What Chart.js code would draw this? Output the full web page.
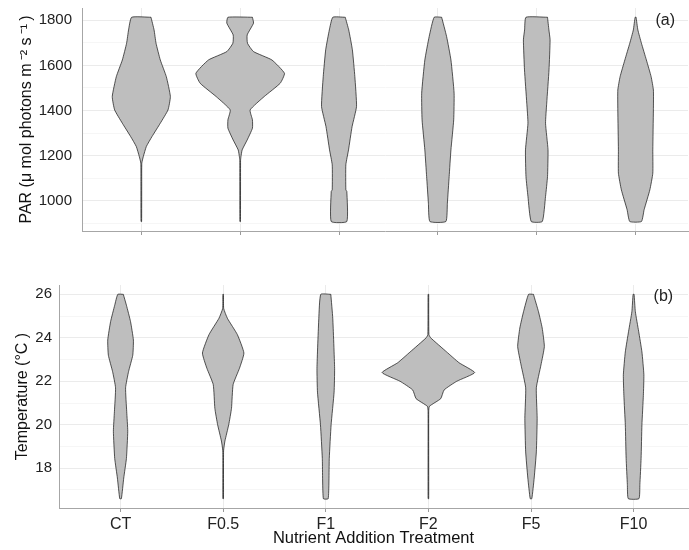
<!DOCTYPE html>
<html>
<head>
<meta charset="utf-8">
<title>PAR and temperature by nutrient treatment</title>
<script src="https://cdn.jsdelivr.net/npm/chart.js@4.4.1/dist/chart.umd.min.js"></script>
<style>
  html, body { margin: 0; padding: 0; background: #fff; }
  #wrap { position: relative; width: 689px; height: 550px; }
  canvas { position: absolute; left: 0; }
  #parChart { top: 0; }
  #tempChart { top: 240px; }
</style>
</head>
<body>
<div id="wrap">
  <canvas id="parChart" width="689" height="240"></canvas>
  <canvas id="tempChart" width="689" height="310"></canvas>
</div>
<script>
// Categories
const treatments = ['CT', 'F0.5', 'F1', 'F2', 'F5', 'F10'];

// Violin profiles: [value, half width in category units]
// (a) PAR, µmol photons m-2 s-1
const parCT  = [[1813,0.098],[1757,0.129],[1698,0.149],[1624,0.192],[1550,0.253],[1462,0.294],[1403,0.270],[1344,0.192],[1285,0.108],[1241,0.051],[1196,0.020],[1167,0.005],[1079,0.004],[909,0.003]];
const parF05 = [[1813,0.124],[1787,0.135],[1735,0.071],[1698,0.074],[1661,0.135],[1624,0.321],[1565,0.448],[1521,0.405],[1462,0.243],[1403,0.101],[1359,0.124],[1322,0.124],[1270,0.071],[1226,0.020],[1196,0.008],[1180,0.004],[909,0.003]];
const parF1  = [[1813,0.063],[1757,0.098],[1669,0.135],[1550,0.160],[1418,0.177],[1329,0.132],[1226,0.096],[1160,0.069],[1049,0.069],[1042,0.079],[909,0.079]];
const parF2  = [[1813,0.038],[1728,0.088],[1624,0.132],[1477,0.164],[1359,0.160],[1226,0.132],[1108,0.114],[990,0.096],[909,0.081]];
const parF5  = [[1813,0.109],[1757,0.123],[1713,0.135],[1580,0.124],[1433,0.101],[1344,0.089],[1226,0.114],[1108,0.109],[1020,0.089],[909,0.056]];
const parF10 = [[1813,0.005],[1757,0.023],[1698,0.059],[1624,0.109],[1550,0.157],[1491,0.180],[1403,0.180],[1226,0.174],[1123,0.174],[1049,0.144],[961,0.086],[909,0.059]];

// (b) Temperature, °C
const tempCT  = [[26.0,0.027],[25.5,0.057],[24.75,0.097],[23.9,0.125],[23.2,0.119],[22.45,0.078],[21.7,0.049],[20.6,0.060],[19.7,0.070],[18.45,0.057],[17.55,0.031],[16.6,0.008]];
const tempF05 = [[26.0,0.003],[25.35,0.005],[24.9,0.041],[24.15,0.138],[23.3,0.202],[22.6,0.159],[21.85,0.097],[20.75,0.081],[20.0,0.054],[19.25,0.017],[18.8,0.004],[16.6,0.003]];
const tempF1  = [[26.0,0.049],[24.9,0.068],[22.6,0.086],[21.5,0.081],[20.0,0.052],[18.45,0.034],[16.6,0.024]];
const tempF2  = [[26.0,0.003],[24.15,0.005],[24.0,0.022],[23.35,0.178],[22.85,0.300],[22.4,0.451],[22.0,0.276],[21.6,0.153],[21.2,0.120],[20.85,0.010],[20.6,0.003],[16.6,0.003]];
const tempF5  = [[26.0,0.024],[25.2,0.073],[24.45,0.109],[23.6,0.130],[22.75,0.097],[21.7,0.052],[20.3,0.060],[18.75,0.052],[17.55,0.031],[16.6,0.008]];
const tempF10 = [[26.0,0.005],[25.2,0.017],[24.3,0.049],[23.35,0.081],[22.3,0.100],[21.35,0.095],[20.0,0.081],[18.45,0.073],[17.25,0.061],[16.6,0.052]];

// Axis ticks (grid every step, labels on majors)
const parTicks  = [900, 1000, 1100, 1200, 1300, 1400, 1500, 1600, 1700, 1800];
const parLabels = [1000, 1200, 1400, 1600, 1800];
const tempTicks  = [17, 18, 19, 20, 21, 22, 23, 24, 25, 26];
const tempLabels = [18, 20, 22, 24, 26];

Chart.defaults.font.family = '"Liberation Sans", Arial, sans-serif';
Chart.defaults.color = '#222';

// one closed outline per violin: down the right side, back up the left
function violinOutline(pos, profile) {
  const right = profile.map(([v, w]) => ({ x: pos + w, y: v }));
  const left = profile.slice().reverse().map(([v, w]) => ({ x: pos - w, y: v }));
  const pts = right.concat(left);
  pts.push(right[0]);
  return pts;
}

function violinDatasets(profiles) {
  return profiles.map((p, i) => ({
    data: violinOutline(i + 1, p),
    showLine: true,
    fill: 'shape',
    backgroundColor: '#bebebe',
    borderColor: '#111',
    borderWidth: 0.7,
    pointRadius: 0,
    tension: 0.15
  }));
}

// "(a)" / "(b)" tag in the corner of each panel
const panelTag = {
  id: 'panelTag',
  afterDraw(chart, args, opts) {
    const { ctx, scales } = chart;
    ctx.save();
    ctx.font = '16px "Liberation Sans", Arial, sans-serif';
    ctx.fillStyle = '#222';
    ctx.textAlign = 'center';
    ctx.textBaseline = 'middle';
    ctx.fillText(opts.text, scales.x.getPixelForValue(opts.x), scales.y.getPixelForValue(opts.y));
    ctx.restore();
  }
};

// no extra room for overflowing tick labels: the panel box is set by hand
function noOverflow(s) {
  s.paddingTop = 0;
  s.paddingBottom = 0;
  s.paddingLeft = 0;
  s.paddingRight = 0;
}

function makePanel(canvasId, cfg) {
  return new Chart(document.getElementById(canvasId), {
    type: 'scatter',
    data: { datasets: violinDatasets(cfg.profiles) },
    plugins: [panelTag],
    options: {
      responsive: false,
      animation: false,
      layout: { padding: { top: cfg.padTop, right: 1, left: 0, bottom: 0 } },
      plugins: {
        legend: { display: false },
        tooltip: { enabled: false },
        panelTag: cfg.tag
      },
      scales: {
        x: {
          type: 'linear',
          min: 0.4,
          max: 6.53,
          afterBuildTicks: s => { s.ticks = treatments.map((_, i) => ({ value: i + 1 })); },
          afterFit: s => { s.height = cfg.xHeight; noOverflow(s); },
          grid: { color: '#ebebeb', tickColor: '#9a9a9a', tickLength: 4 },
          border: { color: '#a6a6a6', width: 1 },
          ticks: {
            display: cfg.showX,
            autoSkip: false,
            maxRotation: 0,
            padding: 3,
            font: { size: 16 },
            color: '#222',
            callback: v => treatments[Math.round(v) - 1]
          },
          title: {
            display: cfg.showX,
            text: 'Nutrient Addition Treatment',
            font: { size: 16.5 },
            color: '#111',
            padding: { top: 0, bottom: 2 }
          }
        },
        y: {
          min: cfg.yMin,
          max: cfg.yMax,
          afterBuildTicks: s => { s.ticks = cfg.yTicks.map(v => ({ value: v })); },
          afterFit: s => { s.width = cfg.yWidth; noOverflow(s); },
          grid: {
            drawTicks: false,
            color: c => (c.tick && cfg.yLabels.includes(c.tick.value)) ? '#ebebeb' : '#f6f6f6'
          },
          border: { color: '#a6a6a6', width: 1 },
          ticks: {
            padding: cfg.yPad,
            font: { size: 15 },
            color: '#222',
            callback: v => cfg.yLabels.includes(v) ? String(v) : ''
          },
          title: {
            display: true,
            text: cfg.yTitle,
            font: { size: 16 },
            color: '#111',
            padding: { top: cfg.yTitlePad, bottom: 0 }
          }
        }
      }
    }
  });
}

makePanel('parChart', {
  profiles: [parCT, parF05, parF1, parF2, parF5, parF10],
  yMin: 867, yMax: 1854,
  yTicks: parTicks, yLabels: parLabels,
  yTitle: 'PAR (\u03bc mol photons m\u2009\u207b\u00b2 s\u2009\u207b\u00b9\u2009)',
  yWidth: 82, yPad: 10, yTitlePad: 17,
  padTop: 8, xHeight: 9, showX: false,
  tag: { text: '(a)', x: 6.30, y: 1800 }
});

makePanel('tempChart', {
  profiles: [tempCT, tempF05, tempF1, tempF2, tempF5, tempF10],
  yMin: 16.17, yMax: 26.43,
  yTicks: tempTicks, yLabels: tempLabels,
  yTitle: 'Temperature (\u00b0C )',
  yWidth: 59, yPad: 7, yTitlePad: 13,
  padTop: 45, xHeight: 42, showX: true,
  tag: { text: '(b)', x: 6.29, y: 25.9 }
});
</script>
</body>
</html>
